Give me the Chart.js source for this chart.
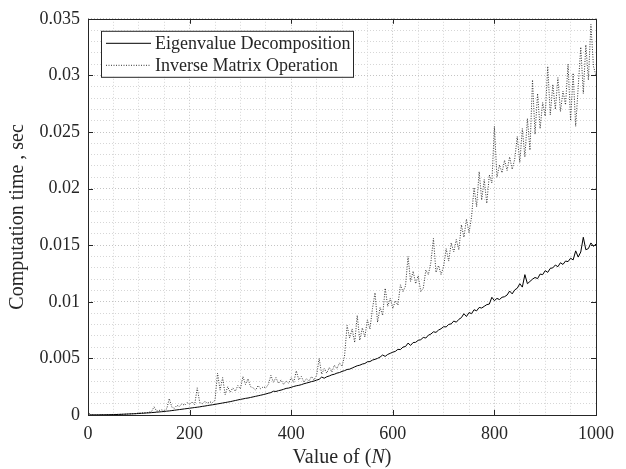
<!DOCTYPE html>
<html>
<head>
<meta charset="utf-8">
<script src="https://cdn.jsdelivr.net/npm/chart.js@4.4.1/dist/chart.umd.min.js"></script>
<style>
    html, body { margin: 0; padding: 0; background: #fff; }
    #wrap { width: 626px; height: 469px; }
</style>
</head>
<body>
<div id="wrap"><canvas id="timeChart" width="626" height="469"></canvas></div>
<script>
// matrix size N
const sizes = [
    0, 5, 10, 15, 20, 25, 30, 35, 40, 45, 50, 55, 60, 65, 70, 75, 80, 85, 90, 95,
    100, 105, 110, 115, 120, 125, 130, 135, 140, 145, 150, 155, 160, 165, 170, 175, 180, 185, 190, 195,
    200, 205, 210, 215, 220, 225, 230, 235, 240, 245, 250, 255, 260, 265, 270, 275, 280, 285, 290, 295,
    300, 305, 310, 315, 320, 325, 330, 335, 340, 345, 350, 355, 360, 365, 370, 375, 380, 385, 390, 395,
    400, 405, 410, 415, 420, 425, 430, 435, 440, 445, 450, 455, 460, 465, 470, 475, 480, 485, 490, 495,
    500, 505, 510, 515, 520, 525, 530, 535, 540, 545, 550, 555, 560, 565, 570, 575, 580, 585, 590, 595,
    600, 605, 610, 615, 620, 625, 630, 635, 640, 645, 650, 655, 660, 665, 670, 675, 680, 685, 690, 695,
    700, 705, 710, 715, 720, 725, 730, 735, 740, 745, 750, 755, 760, 765, 770, 775, 780, 785, 790, 795,
    800, 805, 810, 815, 820, 825, 830, 835, 840, 845, 850, 855, 860, 865, 870, 875, 880, 885, 890, 895,
    900, 905, 910, 915, 920, 925, 930, 935, 940, 945, 950, 955, 960, 965, 970, 975, 980, 985, 990, 995,
    1000
];

// seconds
const eigTime = [
    0.0002, 0.00001, 0.00001, 0.00001, 0.00001, 0.00002, 0.00002, 0.00002, 0.00003, 0.00003,
    0.00004, 0.00004, 0.00005, 0.00006, 0.00007, 0.00008, 0.00009, 0.0001, 0.00011, 0.00012,
    0.00013, 0.00015, 0.00016, 0.00018, 0.00019, 0.00021, 0.00023, 0.00025, 0.00027, 0.00029,
    0.00031, 0.00034, 0.00036, 0.00039, 0.00042, 0.00045, 0.00048, 0.00051, 0.00054, 0.00057,
    0.0006, 0.00063, 0.00066, 0.00069, 0.00072, 0.00076, 0.00079, 0.00083, 0.00087, 0.0009,
    0.00094, 0.00098, 0.00102, 0.00106, 0.0011, 0.00114, 0.00118, 0.00123, 0.00128, 0.00133,
    0.00138, 0.00142, 0.00147, 0.0015, 0.00155, 0.0016, 0.00165, 0.0017, 0.00175, 0.0018,
    0.00186, 0.00192, 0.00198, 0.0021, 0.00208, 0.00215, 0.0022, 0.00227, 0.00235, 0.00238,
    0.00245, 0.00252, 0.00258, 0.00262, 0.00268, 0.00276, 0.00282, 0.00288, 0.00295, 0.003,
    0.00308, 0.00315, 0.00335, 0.00325, 0.00338, 0.00345, 0.00355, 0.0036, 0.0037, 0.00375,
    0.00385, 0.00392, 0.00402, 0.00405, 0.00415, 0.00425, 0.00435, 0.0044, 0.0045, 0.00455,
    0.0047, 0.00472, 0.00485, 0.00492, 0.005, 0.00512, 0.0053, 0.00518, 0.00535, 0.00545,
    0.00555, 0.00562, 0.0058, 0.00578, 0.006, 0.00605, 0.00635, 0.00615, 0.0064, 0.00642,
    0.0066, 0.00665, 0.00685, 0.0068, 0.00705, 0.00715, 0.00735, 0.0073, 0.0075, 0.00762,
    0.0078, 0.00778, 0.008, 0.00805, 0.0083, 0.0082, 0.00845, 0.0086, 0.00895, 0.0087,
    0.00905, 0.00895, 0.0093, 0.0092, 0.0095, 0.00945, 0.0096, 0.00975, 0.0098, 0.0104,
    0.0101, 0.0103, 0.0102, 0.0104, 0.01045, 0.0106, 0.01095, 0.0107, 0.01105, 0.0112,
    0.0116, 0.0113, 0.0124, 0.0116, 0.0118, 0.012, 0.01215, 0.01205, 0.01245, 0.0124,
    0.01275, 0.0126, 0.01295, 0.013, 0.01325, 0.0131, 0.01345, 0.0133, 0.0136, 0.01355,
    0.01385, 0.0137, 0.0145, 0.01395, 0.0144, 0.0157, 0.0146, 0.0147, 0.0152, 0.0149,
    0.0151
];

const invTime = [
    0.0002, 0.00002, 0.00002, 0.00002, 0.00002, 0.00003, 0.00003, 0.00003, 0.00004, 0.00004,
    0.00005, 0.00005, 0.00006, 0.00006, 0.00007, 0.00008, 0.00009, 0.0001, 0.00011, 0.00012,
    0.0002, 0.00016, 0.00022, 0.00018, 0.00025, 0.0003, 0.00072, 0.00035, 0.0004, 0.00045,
    0.00038, 0.00055, 0.00145, 0.0007, 0.0006, 0.00085, 0.00075, 0.001, 0.00085, 0.0011,
    0.00095, 0.00115, 0.0009, 0.0024, 0.0011, 0.001, 0.0012, 0.00105, 0.00115, 0.0011,
    0.0013, 0.0037, 0.0022, 0.0033, 0.0018, 0.0025, 0.002, 0.0024, 0.0021, 0.0026,
    0.0023, 0.0034, 0.0027, 0.0032, 0.0025, 0.0024, 0.0022, 0.0026, 0.0023, 0.0025,
    0.0024, 0.0027, 0.0035, 0.0029, 0.0033, 0.0028, 0.0031, 0.0027, 0.003, 0.0028,
    0.0033, 0.0029, 0.0039, 0.0031, 0.0034, 0.0029, 0.0032, 0.003, 0.0034, 0.0031,
    0.0035, 0.005, 0.0036, 0.0041, 0.0037, 0.0042, 0.0038, 0.0044, 0.0041, 0.0046,
    0.0043, 0.0052, 0.0079, 0.0068, 0.0076, 0.0064, 0.0088, 0.0066, 0.0077, 0.0069,
    0.0084, 0.0076, 0.0094, 0.0108, 0.0082, 0.0095, 0.0088, 0.0112, 0.0096, 0.0103,
    0.0094, 0.0101, 0.0097, 0.0115, 0.0109, 0.0114, 0.014, 0.0118, 0.0127, 0.0116,
    0.0123, 0.0109, 0.0112, 0.0128, 0.0124, 0.0135, 0.0156, 0.0126, 0.0132, 0.0124,
    0.0131, 0.0147, 0.0136, 0.0152, 0.0144, 0.0155, 0.0146, 0.0168, 0.0157, 0.0173,
    0.0161, 0.0175, 0.0201, 0.0184, 0.0215, 0.019, 0.0208, 0.0187, 0.0212, 0.0205,
    0.0255, 0.021, 0.0221, 0.0214, 0.0225, 0.0216, 0.0228, 0.0217, 0.0226, 0.0246,
    0.0223, 0.0253, 0.0228, 0.0262, 0.0234, 0.0296, 0.0248, 0.0284, 0.0253, 0.0276,
    0.0264, 0.0308, 0.0265, 0.0292, 0.027, 0.0298, 0.0268, 0.0286, 0.0274, 0.031,
    0.026, 0.0302, 0.0255, 0.029, 0.0325, 0.0284, 0.0327, 0.0296, 0.0345, 0.0308,
    0.03
];

const xTicks = [0, 200, 400, 600, 800, 1000];
const yTicks = [0, 0.005, 0.01, 0.015, 0.02, 0.025, 0.03, 0.035];
const yTickLabels = ['0', '0.005', '0.01', '0.015', '0.02', '0.025', '0.03', '0.035'];
const seriesNames = ['Eigenvalue Decomposition', 'Inverse Matrix Operation'];

const INK = '#262626';
const SERIF = '"Liberation Serif", "DejaVu Serif", serif';

const isMajorY = (v) => yTicks.some((t) => Math.abs(t - v) < 1e-9);

const frame = {
    id: 'frame',
    afterDraw(chart) {
        const { ctx, chartArea: a, scales: { x, y } } = chart;
        ctx.save();

        // box + inward ticks
        ctx.strokeStyle = INK;
        ctx.lineWidth = 1;
        ctx.strokeRect(Math.round(a.left) + 0.5, Math.round(a.top) + 0.5,
            Math.round(a.right - a.left), Math.round(a.bottom - a.top));
        ctx.beginPath();
        xTicks.forEach((v) => {
            const px = Math.round(x.getPixelForValue(v)) + 0.5;
            ctx.moveTo(px, a.bottom); ctx.lineTo(px, a.bottom - 5);
            ctx.moveTo(px, a.top); ctx.lineTo(px, a.top + 5);
        });
        yTicks.forEach((v) => {
            const py = Math.round(y.getPixelForValue(v)) + 0.5;
            ctx.moveTo(a.left, py); ctx.lineTo(a.left + 5, py);
            ctx.moveTo(a.right, py); ctx.lineTo(a.right - 5, py);
        });
        ctx.stroke();

        // x title with italic N
        ctx.fillStyle = INK;
        ctx.textBaseline = 'middle';
        const parts = [['Value of (', '20px ' + SERIF], ['N', 'italic 20px ' + SERIF], [')', '20px ' + SERIF]];
        let total = 0;
        parts.forEach(([s, f]) => { ctx.font = f; total += ctx.measureText(s).width; });
        let cx = (a.left + a.right) / 2 - total / 2;
        const ty = 458;
        parts.forEach(([s, f]) => {
            ctx.font = f;
            ctx.textAlign = 'left';
            ctx.fillText(s, cx, ty);
            cx += ctx.measureText(s).width;
        });

        // legend in the top-left corner
        const lx = a.left + 13, ly = a.top + 12, lw = 252, lh = 46;
        ctx.fillStyle = '#fff';
        ctx.fillRect(lx, ly, lw, lh);
        ctx.strokeStyle = INK;
        ctx.strokeRect(lx + 0.5, ly + 0.5, lw, lh);
        ctx.font = '18px ' + SERIF;
        chart.data.datasets.forEach((ds, i) => {
            const rowY = ly + 12 + i * 22;
            ctx.strokeStyle = ds.borderColor;
            ctx.lineWidth = ds.borderWidth;
            ctx.setLineDash(ds.borderDash || []);
            ctx.beginPath();
            ctx.moveTo(lx + 5, rowY + 0.5);
            ctx.lineTo(lx + 50, rowY + 0.5);
            ctx.stroke();
            ctx.setLineDash([]);
            ctx.fillStyle = INK;
            ctx.textAlign = 'left';
            ctx.fillText(ds.label, lx + 54, rowY + 1);
        });

        ctx.restore();
    }
};

new Chart(document.getElementById('timeChart'), {
    type: 'line',
    data: {
        datasets: [
            {
                label: seriesNames[0],
                data: sizes.map((n, i) => ({ x: n, y: eigTime[i] })),
                borderColor: '#000',
                borderWidth: 1,
                pointRadius: 0,
                tension: 0,
            },
            {
                label: seriesNames[1],
                data: sizes.map((n, i) => ({ x: n, y: invTime[i] })),
                borderColor: '#333',
                borderWidth: 1,
                borderDash: [1, 1.5],
                pointRadius: 0,
                tension: 0,
            },
        ],
    },
    options: {
        responsive: false,
        animation: false,
        events: [],
        layout: { padding: { top: 16, right: 30, left: 0, bottom: 0 } },
        plugins: { legend: { display: false }, tooltip: { enabled: false } },
        scales: {
            x: {
                type: 'linear',
                min: 0,
                max: 1000,
                afterFit: (s) => { s.height = 54; },
                border: { display: false, dash: [1, 2] },
                grid: {
                    drawTicks: false,
                    color: (c) => (c.tick && xTicks.includes(c.tick.value) ? '#c4c4c4' : '#d6d6d6'),
                },
                ticks: {
                    stepSize: 50,
                    autoSkip: false,
                    maxRotation: 0,
                    padding: 8,
                    color: INK,
                    font: { family: SERIF, size: 18 },
                    callback: (v) => (xTicks.includes(v) ? String(v) : ''),
                },
            },
            y: {
                min: 0,
                max: 0.035,
                afterFit: (s) => { s.width = 88; },
                border: { display: false, dash: [1, 2] },
                grid: {
                    drawTicks: false,
                    color: (c) => (c.tick && isMajorY(c.tick.value) ? '#c4c4c4' : '#d6d6d6'),
                },
                ticks: {
                    stepSize: 0.001,
                    autoSkip: false,
                    padding: 8,
                    color: INK,
                    font: { family: SERIF, size: 18 },
                    callback: (v) => {
                        const k = yTicks.findIndex((t) => Math.abs(t - v) < 1e-9);
                        return k >= 0 ? yTickLabels[k] : '';
                    },
                },
                title: {
                    display: true,
                    text: 'Computation time , sec',
                    color: INK,
                    font: { family: SERIF, size: 20 },
                    padding: { top: 6, bottom: 8 },
                },
            },
        },
    },
    plugins: [frame],
});
</script>
</body>
</html>
